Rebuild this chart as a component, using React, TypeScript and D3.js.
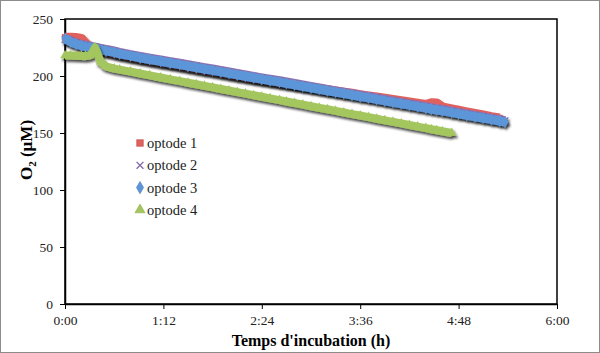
import React, { useEffect, useRef } from "react";
import * as d3 from "d3";

// minutes since start of incubation
const timeMin = [
  0, 4, 8, 12, 15, 18, 20, 22, 24, 26, 30, 36, 40, 48, 55, 62, 70, 77, 84, 90,
  96, 102, 108, 114, 120, 126, 132, 138, 144, 150, 157, 162, 168, 174, 180, 186,
  192, 198, 204, 210, 216, 222, 228, 234, 240, 246, 252, 258, 264, 268, 272, 276,
  283, 288, 294, 300, 306, 312, 318, 322,
];

const optode1 = [
  234, 234, 233.8, 233, 229, 226, 224, 223.3, 222.8, 222.3, 221.3, 219.9, 218.7,
  216.8, 215.2, 213.7, 212.1, 210.6, 209.2, 207.9, 206.6, 205.3, 204.1, 202.8,
  201.5, 200.2, 199, 197.8, 196.6, 195.5, 194.2, 193.3, 192.2, 191.1, 190, 189,
  187.9, 186.9, 185.8, 184.8, 183.7, 182.6, 181.6, 180.5, 179.4, 178.3, 177.2,
  176.1, 175, 176.5, 176.3, 173, 171.2, 170, 168.6, 167.2, 165.8, 164.4, 163.2,
  null,
];

const optode2 = [
  232, 231, 229.2, 227.7, 227, 226.4, 225.8, 225.3, 224.8, 224.3, 223.3, 221.9,
  220.7, 218.8, 217.2, 215.7, 214.1, 212.6, 211.2, 209.9, 208.6, 207.3, 206.1,
  204.8, 203.5, 202.2, 201, 199.7, 198.4, 197.2, 195.8, 194.7, 193.4, 192.1,
  190.9, 189.6, 188.3, 187, 185.8, 184.5, 183.2, 182, 180.7, 179.4, 178.1, 176.9,
  175.6, 174.3, 173.1, 172.2, 171.4, 170.6, 169.1, 168, 166.7, 165.5, 164.2,
  162.9, 161.7, 160.8,
];

const optode3 = [
  233, 230, 228, 226.5, 225.8, 225.2, 224.6, 224.1, 223.6, 223.1, 222.1, 220.7,
  219.5, 217.6, 216, 214.5, 212.9, 211.4, 210, 208.7, 207.4, 206.1, 204.9, 203.6,
  202.3, 201, 199.8, 198.5, 197.2, 196, 194.6, 193.5, 192.2, 190.9, 189.7, 188.4,
  187.1, 185.8, 184.6, 183.3, 182, 180.8, 179.5, 178.2, 176.9, 175.7, 174.4,
  173.1, 171.9, 171, 170.2, 169.4, 167.9, 166.8, 165.5, 164.3, 163, 161.7, 160.5,
  159.6,
];

const optode4 = [
  218, 218, 217.8, 217.6, 217.4, 218, 220.5, 225, 219, 212.5, 208.5, 206.5, 205.6,
  203.8, 202.2, 200.6, 198.7, 197.1, 195.5, 194.1, 192.8, 191.4, 190, 188.6,
  187.3, 185.9, 184.5, 183.1, 181.8, 180.4, 178.8, 177.6, 176.3, 174.9, 173.5,
  172.1, 170.8, 169.4, 168, 166.6, 165.3, 163.9, 162.5, 161.1, 159.8, 158.4, 157,
  155.6, 154.3, 153.3, 152.4, 151.5, 150, null, null, null, null, null, null, null,
];

const seriesNames = ["optode 1", "optode 2", "optode 3", "optode 4"];
const xTickMin = [0, 72, 144, 216, 288, 360];
const xTickLabels = ["0:00", "1:12", "2:24", "3:36", "4:48", "6:00"];
const yTicks = [0, 50, 100, 150, 200, 250];

const W = 600;
const H = 353;
const FONT = "'Liberation Serif', 'DejaVu Serif', serif";

const App: React.FC = () => {
  const svgRef = useRef<SVGSVGElement>(null);

  useEffect(() => {
    if (!svgRef.current) return;
    const root = d3.select(svgRef.current);
    root.selectAll("*").remove();

    const left = 65;
    const right = 557;
    const top = 19;
    const bottom = 304;

    const x = d3.scaleLinear().domain([0, 360]).range([left, right]);
    const y = d3.scaleLinear().domain([0, 250]).range([bottom, top]);

    const defs = root.append("defs");
    const f = defs
      .append("filter")
      .attr("id", "shadow")
      .attr("x", "-10%")
      .attr("y", "-10%")
      .attr("width", "130%")
      .attr("height", "140%");
    f.append("feDropShadow")
      .attr("dx", 1.5)
      .attr("dy", 2.5)
      .attr("stdDeviation", 1)
      .attr("flood-color", "#000")
      .attr("flood-opacity", 0.7);

    // outer frame
    root
      .append("rect")
      .attr("x", 0.5)
      .attr("y", 0.5)
      .attr("width", W - 1)
      .attr("height", H - 1)
      .attr("fill", "#fff")
      .attr("stroke", "#8c8c8c");

    // plot box
    root
      .append("rect")
      .attr("x", left)
      .attr("y", top)
      .attr("width", right - left)
      .attr("height", bottom - top)
      .attr("fill", "none")
      .attr("stroke", "#000")
      .attr("stroke-width", 1.5);

    // y axis
    const yAxis = root
      .append("g")
      .attr("transform", `translate(${left},0)`)
      .call(d3.axisLeft(y).tickValues(yTicks).tickSize(5).tickSizeOuter(0));
    yAxis.attr("font-family", FONT);
    yAxis.select(".domain").attr("stroke", "#000").attr("stroke-width", 1.5);
    yAxis.selectAll("line").attr("stroke", "#000");
    yAxis
      .selectAll("text")
      .attr("font-family", FONT)
      .attr("font-size", 13.5)
      .attr("fill", "#222")
      .attr("x", -12);

    // x axis
    const xAxis = root
      .append("g")
      .attr("transform", `translate(0,${bottom})`)
      .call(
        d3
          .axisBottom(x)
          .tickValues(xTickMin)
          .tickFormat((_, i) => xTickLabels[i])
          .tickSize(5)
          .tickSizeOuter(0)
      );
    xAxis.attr("font-family", FONT);
    xAxis.select(".domain").attr("stroke", "#000").attr("stroke-width", 1.5);
    xAxis.selectAll("line").attr("stroke", "#000");
    xAxis
      .selectAll("text")
      .attr("font-family", FONT)
      .attr("font-size", 13.5)
      .attr("fill", "#222")
      .attr("y", 11);

    root
      .append("text")
      .attr("x", (left + right) / 2)
      .attr("y", 346)
      .attr("text-anchor", "middle")
      .attr("font-family", FONT)
      .attr("font-size", 16)
      .attr("font-weight", "bold")
      .text("Temps d'incubation (h)");

    const yTitle = root
      .append("text")
      .attr("transform", `translate(32,150) rotate(-90)`)
      .attr("text-anchor", "middle")
      .attr("font-family", FONT)
      .attr("font-size", 17)
      .attr("font-weight", "bold");
    yTitle.append("tspan").text("O");
    yTitle.append("tspan").attr("font-size", 11).attr("dy", 4).text("2");
    yTitle.append("tspan").attr("dy", -4).text(" (µM)");

    const series = [
      { name: seriesNames[0], values: optode1, color: "#e0615d", edge: "#c0504d", shape: "square" },
      { name: seriesNames[1], values: optode2, color: "#8f72b3", edge: "#8064a2", shape: "cross" },
      { name: seriesNames[2], values: optode3, color: "#5b96d8", edge: "#4a7fc0", shape: "diamond" },
      { name: seriesNames[3], values: optode4, color: "#a4c65e", edge: "#8fb04a", shape: "triangle" },
    ];

    const symbolFor = (shape: string) =>
      shape === "square"
        ? d3.symbolSquare
        : shape === "diamond"
        ? d3.symbolDiamond
        : shape === "triangle"
        ? d3.symbolTriangle
        : d3.symbolX;

    const line = d3
      .line<number | null>()
      .defined((d) => d !== null)
      .x((_, i) => x(timeMin[i]))
      .y((d) => y(d as number));

    series.forEach((s) => {
      const g = root.append("g").attr("filter", "url(#shadow)");
      g.append("path")
        .datum(s.values)
        .attr("d", line)
        .attr("fill", "none")
        .attr("stroke", s.color)
        .attr("stroke-width", s.shape === "triangle" ? 8 : 9)
        .attr("stroke-linejoin", "round");
      const pts = s.values
        .map((v, i) => ({ t: timeMin[i], v }))
        .filter((p) => p.v !== null);
      g.selectAll("path.m")
        .data(pts)
        .enter()
        .append("path")
        .attr("class", "m")
        .attr("transform", (p) => `translate(${x(p.t)},${y(p.v as number)})`)
        .attr("d", d3.symbol().type(symbolFor(s.shape)).size(s.shape === "cross" ? 30 : 40)())
        .attr("fill", s.shape === "cross" ? "none" : s.color)
        .attr("stroke", s.shape === "cross" ? s.edge : "none")
        .attr("stroke-width", 1.2);
    });

    // legend
    const legend = root.append("g");
    series.forEach((s, i) => {
      const ly = 143 + i * 22.3;
      legend
        .append("path")
        .attr("transform", `translate(140,${ly})`)
        .attr("d", d3.symbol().type(symbolFor(s.shape)).size(s.shape === "cross" ? 32 : 44)())
        .attr("fill", s.shape === "cross" ? "none" : s.color)
        .attr("stroke", s.edge)
        .attr("stroke-width", s.shape === "cross" ? 1.3 : 0.6);
      legend
        .append("text")
        .attr("x", 147)
        .attr("y", ly + 5)
        .attr("font-family", FONT)
        .attr("font-size", 14.5)
        .attr("fill", "#222")
        .text(s.name);
    });
  }, []);

  return (
    <div style={{ position: "fixed", left: 0, top: 0, width: W, height: H }}>
      <svg ref={svgRef} width={W} height={H} style={{ display: "block" }} />
    </div>
  );
};

export default App;
